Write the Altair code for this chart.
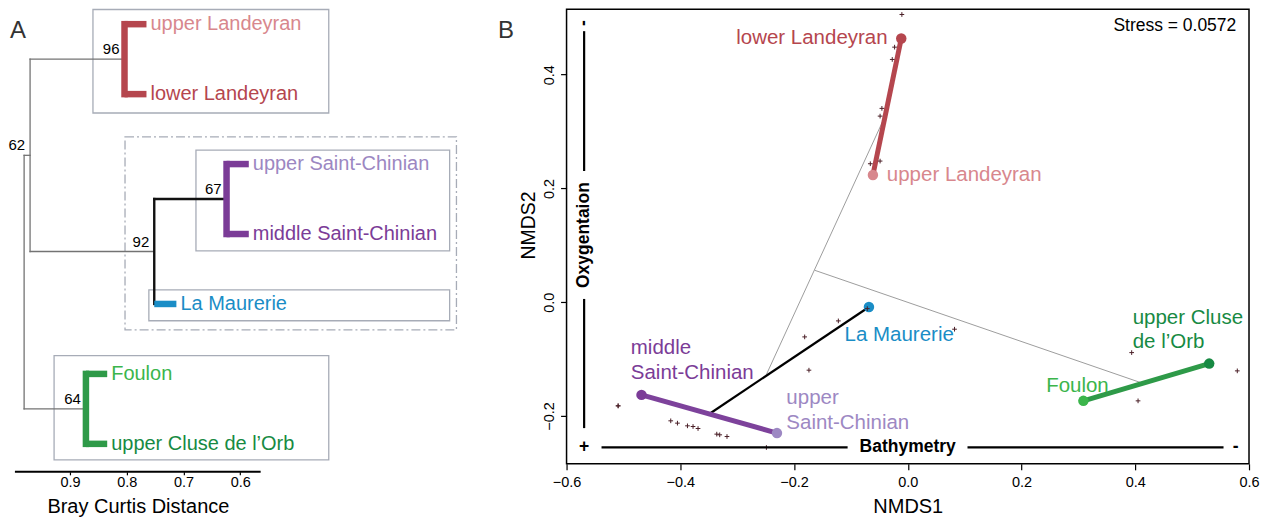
import altair as alt
import pandas as pd

FONT = "Liberation Sans"

# ---------------- Panel A : dendrogram ----------------
leaf_names = ["upper Landeyran", "lower Landeyran", "upper Saint-Chinian",
              "middle Saint-Chinian", "La Maurerie", "Foulon", "upper Cluse de l’Orb"]
leaf_pos = [1, 2, 3, 4, 5, 6, 7]
leaf_tip = [0.7652, 0.7652, 0.5849, 0.5849, 0.7125, 0.8344, 0.8344]
leaf_colors = ["#d8878d", "#b5464e", "#9c87c2", "#7b3c97", "#1a8dc6", "#3bb54b", "#178a43"]

clusters = ["Landeyran", "Saint-Chinian", "Maurerie", "Orb"]
clus_node = [0.8039, 0.6241, 0.7515, 0.8719]
clus_leaves = [[0, 1], [2, 3], [4], [5, 6]]
clus_colors = ["#b5464e", "#7b3c97", "#1a8dc6", "#2e9a48"]

node_labels = ["96", "62", "67", "92", "64"]
node_dist = [0.8039, 0.9703, 0.6241, 0.7515, 0.8719]
node_pos = [1.5, 2.875, 3.5, 4.25, 6.5]

grey_x = [0.9808, 0.9808, 0.9703, 0.9703, 0.9703, 0.9808]
grey_x2 = [0.9808, 0.9703, 0.9703, 0.8039, 0.7515, 0.8719]
grey_y = [2.875, 2.875, 1.5, 1.5, 4.25, 6.5]
grey_y2 = [6.5, 2.875, 4.25, 1.5, 4.25, 6.5]

black_x = [0.7515, 0.7515]
black_x2 = [0.7515, 0.6241]
black_y = [3.5, 3.5]
black_y2 = [5.0, 3.5]

box_x = [0.8595, 0.678, 0.761, 0.928]
box_x2 = [0.444, 0.231, 0.231, 0.444]
box_y = [0.79, 2.8, 4.8, 5.74]
box_y2 = [2.27, 4.24, 5.24, 7.23]
dash_x, dash_x2, dash_y, dash_y2 = [0.803], [0.219], [2.61], [5.37]

axis_from, axis_to = 0.997, 0.564
xA_dom = [0.1993, 1.0092]
yA_dom = [0.786, 7.4]
xA_ticks = [0.9, 0.8, 0.7, 0.6]

# ---------------- Panel B : NMDS ----------------
sites = ["lower Landeyran", "upper Landeyran", "La Maurerie", "middle Saint-Chinian",
         "upper Saint-Chinian", "Foulon", "upper Cluse de l’Orb"]
site_x = [-0.0115, -0.0613, -0.0683, -0.4682, -0.2300, 0.3088, 0.5300]
site_y = [0.4636, 0.2235, -0.0083, -0.1628, -0.2300, -0.1733, -0.1078]
site_colors = ["#b5464e", "#d8878d", "#1a8dc6", "#7b3c97", "#9d88c3", "#3bb54b", "#178a43"]

label_text = ["lower Landeyran", "upper Landeyran", "La Maurerie", "middle\nSaint-Chinian",
              "upper\nSaint-Chinian", "Foulon", "upper Cluse\nde l’Orb"]
label_x = [-0.0355, -0.0368, -0.1111, -0.487, -0.2135, 0.2433, 0.3955]
label_y = [0.4636, 0.2235, -0.0574, -0.0808, -0.1686, -0.147, -0.0270]

seg_groups = ["Landeyran", "Saint-Chinian", "Orb"]
seg_from = [0, 3, 5]
seg_to = [1, 4, 6]
seg_colors = ["#b5464e", "#7d429b", "#2e9a48"]

greyB_x = [-0.2486, -0.1638]
greyB_x2 = [-0.0415, 0.413]
greyB_y = [-0.127, 0.0562]
greyB_y2 = [0.3236, -0.1424]

sp_x = [-0.0104, -0.0232, -0.0273, -0.0455, -0.0487, -0.0659, -0.0487, -0.5093, -0.5093,
        -0.4168, -0.4050, -0.3874, -0.3776, -0.3688, -0.3359, -0.3307, -0.3179, -0.2486,
        -0.1813, -0.1221, -0.1738, -0.0712, 0.0822, 0.3937, 0.5794, 0.4049]
sp_y = [0.5057, 0.4483, 0.4267, 0.3407, 0.3271, 0.2434, 0.2481, -0.1821, -0.1821,
        -0.2084, -0.2125, -0.2172, -0.2184, -0.2219, -0.2318, -0.2330, -0.2360, -0.2553,
        -0.0609, -0.0328, -0.1194, -0.0112, -0.0474, -0.0885, -0.1206, -0.1733]

ann_x = [-0.5691, -0.5691, -0.5385, 0.105]
ann_x2 = [-0.5691, -0.5691, -0.1058, 0.5552]
ann_y = [0.4764, 0.0058, -0.255, -0.255]
ann_y2 = [0.2306, -0.2212, -0.255, -0.255]
ann_rot_text = ["Oxygentaion", "-"]
ann_rot_x = [-0.5691, -0.5691]
ann_rot_y = [0.118, 0.4904]
ann_text = ["Bathymetry", "+", "-"]
ann_text_x = [-0.0002, -0.5691, 0.5765]
ann_text_y = [-0.255, -0.255, -0.255]

xB_dom = [-0.6, 0.6]
yB_dom = [-0.284, 0.515]
xB_ticks = [-0.6, -0.4, -0.2, 0.0, 0.2, 0.4, 0.6]
yB_ticks = [-0.2, 0.0, 0.2, 0.4]

# ================= build panel A =================
A_W, A_H = 460, 463
xA_scale = alt.Scale(domain=xA_dom, reverse=True, nice=False, zero=False)
yA_scale = alt.Scale(domain=yA_dom, reverse=True, nice=False, zero=False)
xA_axis = alt.Axis(values=xA_ticks, format=".1f", domain=False, grid=False,
                   tickColor="black", tickWidth=1.2, tickSize=3,
                   labelFontSize=14.5, labelColor="black", labelFont=FONT,
                   labelPadding=1, labelFlush=False, labelOverlap=False,
                   title="Bray Curtis Distance", titleFont=FONT, titleFontSize=20,
                   titleFontWeight="normal", titleColor="black",
                   titleX=130, titleY=35, titleAlign="center", titleBaseline="middle")
colA = alt.Scale(domain=leaf_names + clusters, range=leaf_colors + clus_colors)


def XA(f):
    return alt.X(f + ":Q", scale=xA_scale, axis=xA_axis)


def YA(f):
    return alt.Y(f + ":Q", scale=yA_scale, axis=None)


boxes = pd.DataFrame({"x": box_x, "x2": box_x2, "y": box_y, "y2": box_y2})
dbox = pd.DataFrame({"x": dash_x, "x2": dash_x2, "y": dash_y, "y2": dash_y2})
grey = pd.DataFrame({"x": grey_x, "x2": grey_x2, "y": grey_y, "y2": grey_y2})
blk = pd.DataFrame({"x": black_x, "x2": black_x2, "y": black_y, "y2": black_y2})

vert_rows, stub_rows = [], []
for c, nx, lv in zip(clusters, clus_node, clus_leaves):
    if len(lv) > 1:
        vert_rows.append({"g": c, "x": nx, "y": leaf_pos[lv[0]], "y2": leaf_pos[lv[-1]]})
    for i in lv:
        stub_rows.append({"g": c, "x": nx, "x2": leaf_tip[i], "y": leaf_pos[i]})
verts = pd.DataFrame(vert_rows)
stubs = pd.DataFrame(stub_rows)
leaves = pd.DataFrame({"leaf": leaf_names, "x": leaf_tip, "y": leaf_pos})
nodes = pd.DataFrame({"t": node_labels, "x": node_dist, "y": node_pos})
axl = pd.DataFrame({"x": [axis_from], "x2": [axis_to], "y": [yA_dom[1]]})
lblA = pd.DataFrame({"t": ["A"], "x": [0.9914], "y": [1.1]})

a_layers = [
    alt.Chart(boxes).mark_rect(fillOpacity=0, stroke="#a7acb7", strokeWidth=1.3).encode(
        x=XA("x"), x2="x2", y=YA("y"), y2="y2"),
    alt.Chart(dbox).mark_rect(fillOpacity=0, stroke="#a7acb7", strokeWidth=1.3,
                              strokeDash=[9, 3, 2, 3]).encode(
        x=XA("x"), x2="x2", y=YA("y"), y2="y2"),
    alt.Chart(grey).mark_rule(color="#737373", strokeWidth=1.3, strokeCap="square").encode(
        x=XA("x"), x2="x2", y=YA("y"), y2="y2"),
    alt.Chart(blk).mark_rule(color="#111111", strokeWidth=2.4, strokeCap="square").encode(
        x=XA("x"), x2="x2", y=YA("y"), y2="y2"),
    alt.Chart(verts).mark_rule(strokeWidth=6.5, strokeCap="square").encode(
        x=XA("x"), y=YA("y"), y2="y2",
        color=alt.Color("g:N", scale=colA, legend=None)),
    alt.Chart(stubs).mark_rule(strokeWidth=6.5, strokeCap="butt").encode(
        x=XA("x"), x2="x2", y=YA("y"),
        color=alt.Color("g:N", scale=colA, legend=None)),
    alt.Chart(leaves).mark_text(align="left", baseline="middle", dx=4, fontSize=20,
                                font=FONT).encode(
        x=XA("x"), y=YA("y"), text="leaf:N",
        color=alt.Color("leaf:N", scale=colA, legend=None)),
    alt.Chart(nodes).mark_text(align="right", baseline="alphabetic", dx=-5, dy=-5,
                               fontSize=15, font=FONT, color="black").encode(
        x=XA("x"), y=YA("y"), text="t:N"),
    alt.Chart(axl).mark_rule(color="black", strokeWidth=2).encode(
        x=XA("x"), x2="x2", y=YA("y")),
    alt.Chart(lblA).mark_text(align="center", baseline="middle", fontSize=24, font=FONT,
                              color="#333333").encode(x=XA("x"), y=YA("y"), text="t:N"),
]
panelA = alt.layer(*a_layers).properties(width=A_W, height=A_H,
                                          view=alt.ViewBackground(strokeWidth=0))

# ================= build panel B =================
B_W, B_H = 683, 455
xB_scale = alt.Scale(domain=xB_dom, nice=False, zero=False)
yB_scale = alt.Scale(domain=yB_dom, nice=False, zero=False)
xB_axis = alt.Axis(values=xB_ticks, format=".1f", domain=False, grid=False,
                   tickColor="black", tickWidth=1.2, tickSize=6,
                   labelFontSize=14.5, labelColor="black", labelFont=FONT, labelPadding=6,
                   labelFlush=False, labelOverlap=False,
                   title="NMDS1", titleFont=FONT, titleFontSize=20, titleFontWeight="normal",
                   titleColor="black", titleY=43, titleBaseline="middle")
yB_axis = alt.Axis(values=yB_ticks, format=".1f", domain=False, grid=False,
                   tickColor="black", tickWidth=1.2, tickSize=6,
                   labelAngle=270, labelAlign="center", labelBaseline="bottom",
                   labelFontSize=14.5, labelColor="black", labelFont=FONT, labelPadding=4,
                   labelFlush=False, labelOverlap=False,
                   title="NMDS2", titleFont=FONT, titleFontSize=19.5, titleFontWeight="normal",
                   titleColor="black", titleAngle=270, titleX=-38, titleY=216,
                   titleAlign="center", titleBaseline="middle")
colB = alt.Scale(domain=sites + seg_groups, range=site_colors + seg_colors)


def XB(f):
    return alt.X(f + ":Q", scale=xB_scale, axis=xB_axis)


def YB(f):
    return alt.Y(f + ":Q", scale=yB_scale, axis=yB_axis)


pts = pd.DataFrame({"site": sites, "x": site_x, "y": site_y})
segs = pd.DataFrame({"g": seg_groups,
                     "x": [site_x[i] for i in seg_from], "y": [site_y[i] for i in seg_from],
                     "x2": [site_x[i] for i in seg_to], "y2": [site_y[i] for i in seg_to]})
mid_x = (site_x[3] + site_x[4]) / 2
mid_y = (site_y[3] + site_y[4]) / 2
blkB = pd.DataFrame({"x": [site_x[2]], "y": [site_y[2]], "x2": [mid_x], "y2": [mid_y]})
greyB = pd.DataFrame({"x": greyB_x, "x2": greyB_x2, "y": greyB_y, "y2": greyB_y2})
spp = pd.DataFrame({"x": sp_x, "y": sp_y})
labs = pd.DataFrame({"site": sites, "t": label_text, "x": label_x, "y": label_y})
ann = pd.DataFrame({"x": ann_x, "x2": ann_x2, "y": ann_y, "y2": ann_y2})
annr = pd.DataFrame({"t": ann_rot_text, "x": ann_rot_x, "y": ann_rot_y})
annt = pd.DataFrame({"t": ann_text, "x": ann_text_x, "y": ann_text_y})
stress = pd.DataFrame({"t": ["Stress = 0.0572"], "x": [0.5776], "y": [0.486]})
lblB = pd.DataFrame({"t": ["B"], "x": [-0.7066], "y": [0.4764]})

b_layers = [
    alt.Chart(greyB).mark_rule(color="#9d9d9d", strokeWidth=1).encode(
        x=XB("x"), x2="x2", y=YB("y"), y2="y2"),
    alt.Chart(blkB).mark_rule(color="black", strokeWidth=2.2).encode(
        x=XB("x"), x2="x2", y=YB("y"), y2="y2"),
    alt.Chart(segs).mark_rule(strokeWidth=5).encode(
        x=XB("x"), x2="x2", y=YB("y"), y2="y2",
        color=alt.Color("g:N", scale=colB, legend=None)),
    alt.Chart(pts).mark_circle(size=110, opacity=1).encode(
        x=XB("x"), y=YB("y"), color=alt.Color("site:N", scale=colB, legend=None)),
    alt.Chart(spp).mark_point(shape="M-1,0L1,0M0,-1L0,1", size=22, filled=False,
                              strokeWidth=1, color="#4a1f27", opacity=1).encode(
        x=XB("x"), y=YB("y")),
    alt.Chart(labs).transform_filter(alt.datum.site != sites[0]).mark_text(
        align="left", baseline="middle", fontSize=20.5, font=FONT, lineBreak="\n",
        lineHeight=24.5).encode(
        x=XB("x"), y=YB("y"), text="t:N",
        color=alt.Color("site:N", scale=colB, legend=None)),
    alt.Chart(labs).transform_filter(alt.datum.site == sites[0]).mark_text(
        align="right", baseline="middle", fontSize=20.5, font=FONT).encode(
        x=XB("x"), y=YB("y"), text="t:N",
        color=alt.Color("site:N", scale=colB, legend=None)),
    alt.Chart(ann).mark_rule(color="black", strokeWidth=2.2).encode(
        x=XB("x"), x2="x2", y=YB("y"), y2="y2"),
    alt.Chart(annr).mark_text(angle=270, align="center", baseline="middle", fontSize=17.5,
                              fontWeight="bold", font=FONT, color="black").encode(
        x=XB("x"), y=YB("y"), text="t:N"),
    alt.Chart(annt).mark_text(align="center", baseline="middle", fontSize=17.5,
                              fontWeight="bold", font=FONT, color="black").encode(
        x=XB("x"), y=YB("y"), text="t:N"),
    alt.Chart(stress).mark_text(align="right", baseline="middle", fontSize=17.5, font=FONT,
                                color="black").encode(x=XB("x"), y=YB("y"), text="t:N"),
    alt.Chart(lblB).mark_text(align="center", baseline="middle", fontSize=24, font=FONT,
                              color="#333333").encode(x=XB("x"), y=YB("y"), text="t:N"),
]
panelB = alt.layer(*b_layers).properties(
    width=B_W, height=B_H,
    view=alt.ViewBackground(stroke="black", strokeWidth=1.5, strokeOpacity=1))

chart = alt.hconcat(panelA, panelB, spacing=99, bounds="flush", padding=0).resolve_scale(
    x="independent", y="independent", color="independent"
).configure(font=FONT)

chart.save("out.html", embed_options={"renderer": "svg", "actions": False})
